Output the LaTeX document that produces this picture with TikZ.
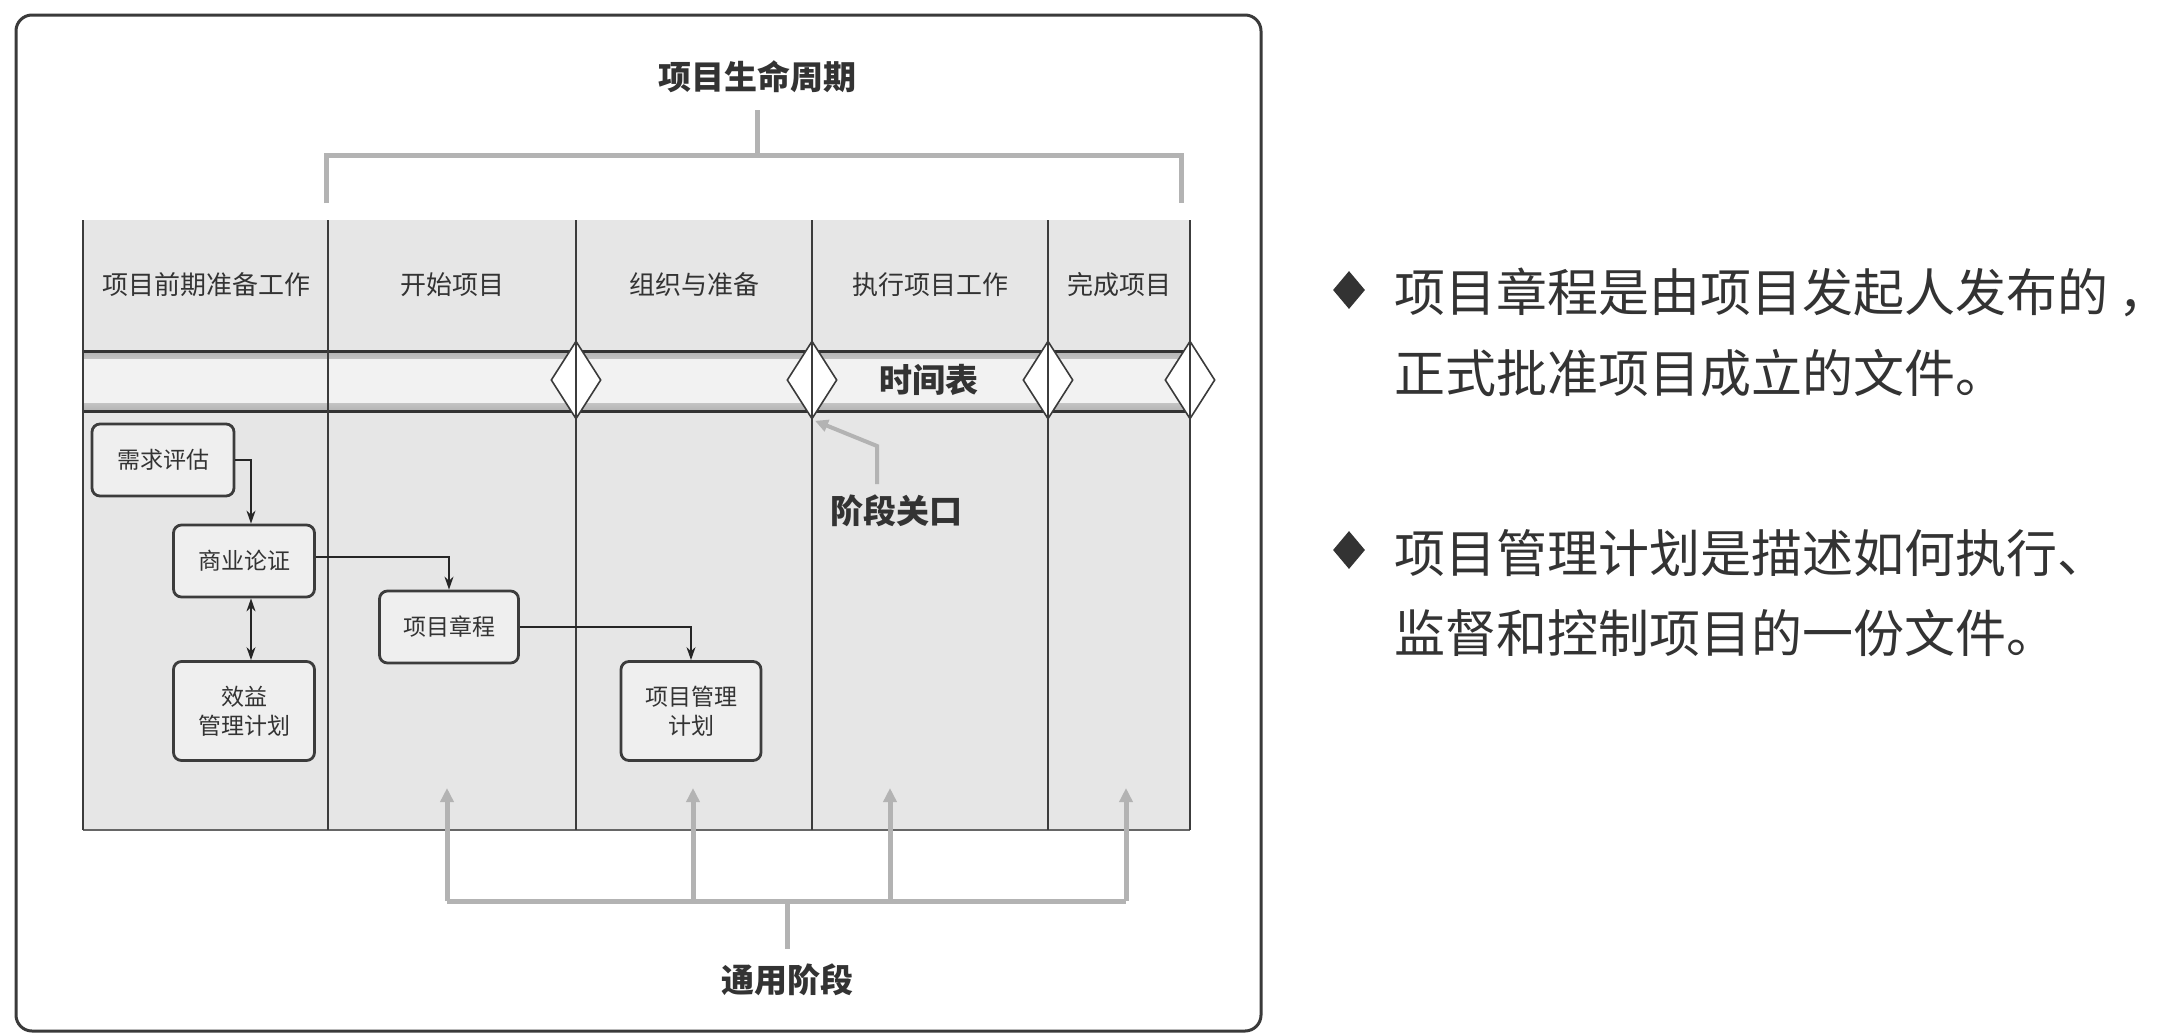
\documentclass[tikz,border=0pt]{standalone}
\usepackage{fontspec}
\setmainfont{Noto Sans CJK SC}
\usetikzlibrary{arrows.meta,shapes.geometric}
\definecolor{frame}{HTML}{3A3A3A}
\definecolor{tfill}{HTML}{E6E6E6}
\definecolor{tline}{HTML}{3C3C3C}
\definecolor{gline}{HTML}{B3B3B3}
\definecolor{txt}{HTML}{333333}
\definecolor{bfill}{HTML}{EFEFEF}
\tikzset{
  box/.style={draw=tline, line width=2.8pt, fill=bfill, rounded corners=8pt,
    align=center, text=txt, font=\fontsize{23pt}{29pt}\selectfont, inner sep=2pt},
  arr/.style={draw=black!85, line width=1.6pt, -{Stealth[length=13pt,width=9pt]}},
  darr/.style={draw=black!85, line width=1.6pt, {Stealth[length=13pt,width=9pt]}-{Stealth[length=13pt,width=9pt]}},
  gbr/.style={draw=gline, line width=5pt},
  garr/.style={draw=gline, line width=5pt, -{Triangle[length=14pt,width=13pt]}},
  head/.style={text=txt, font=\fontsize{26pt}{30pt}\selectfont},
  big/.style={text=txt, font=\bfseries\fontsize{33pt}{38pt}\selectfont},
  gate/.style={diamond, draw=frame, line width=1.6pt, fill=white, inner sep=0pt,
    minimum width=50pt, minimum height=78pt},
  bullet/.style={diamond, fill=txt, inner sep=0pt, minimum width=32pt, minimum height=38pt},
  rtext/.style={anchor=west, text=txt, font=\fontsize{51pt}{60pt}\selectfont, inner sep=0pt}
}
\begin{document}
\begin{tikzpicture}[x=1pt,y=-1pt]
\useasboundingbox (0,0) rectangle (2176,1034);
\fill[white] (0,0) rectangle (2176,1034);
% outer frame
\draw[frame, line width=3pt, rounded corners=16pt] (16,15) rectangle (1261,1031);

% title and top bracket
\node[big] (lc) at (757,77) {项目生命周期};
\coordinate (ts) at (757,110);
\coordinate (tj) at (757,155);
\coordinate (tl) at (326,203);
\coordinate (tr) at (1181,203);
\draw[gbr] (ts) -- (tj);
\draw[gbr] (tl) |- (tj) -| (tr);

% table background
\fill[tfill] (83,220) rectangle (1190,830);
% band
\shade[top color=black!30, bottom color=black!30, middle color=black!5] (83,351) rectangle (1190,411);
\fill[black!5] (83,359) rectangle (1190,403);
\draw[black!80, line width=3pt] (83,351) -- (1190,351);
\draw[black!80, line width=3pt] (83,411) -- (1190,411);
\draw[black!60, line width=2.4pt] (83,830) -- (1190,830);

% gates
\node[gate] (g1) at (576,380) {};
\node[gate] (g2) at (812,380) {};
\node[gate] (g3) at (1048,380) {};
\node[gate] (g4) at (1190,380) {};

% column lines
\foreach \x in {83,328,576,812,1048,1190}
  \draw[tline, line width=1.4pt] (\x,220) -- (\x,830);

% headers
\node[head] (h1) at (206,285) {项目前期准备工作};
\node[head] (h2) at (452,285) {开始项目};
\node[head] (h3) at (694,285) {组织与准备};
\node[head] (h4) at (930,285) {执行项目工作};
\node[head] (h5) at (1119,285) {完成项目};

\node[big] (sj) at (929,380) {时间表};

% gate label
\node[big] (jd) at (896,511) {阶段关口};
\coordinate (js) at (877,484);
\draw[gbr, line width=4pt, -{Triangle[length=13pt,width=12pt]}] (js) -- ++(0,-38) -- ([xshift=3pt,yshift=-1pt]g2.south);

% boxes
\node[box, minimum width=142pt, minimum height=72pt] (xq) at (163,460) {需求评估};
\node[box, minimum width=141pt, minimum height=72pt] (sy) at (244,561) {商业论证};
\node[box, minimum width=141pt, minimum height=99pt] (xy) at (244,711) {效益\\管理计划};
\node[box, minimum width=139pt, minimum height=72pt] (zc) at (449,627) {项目章程};
\node[box, minimum width=140pt, minimum height=99pt] (gl) at (691,711) {项目管理\\计划};

\draw[arr] (xq.east) -| ([xshift=7pt]sy.north);
\draw[arr] ([yshift=4pt]sy.east) -| (zc.north);
\draw[darr] ([xshift=7pt]sy.south) -- ([xshift=7pt]xy.north);
\draw[arr] (zc.east) -| (gl.north);

% bottom bracket
\coordinate (b1) at (447,788);
\coordinate (b2) at (693,788);
\coordinate (b3) at (890,788);
\coordinate (b4) at (1126,788);
\coordinate (bj) at (787,901);
\coordinate (bs) at (787,949);
\draw[gbr] (b1 |- bj) -- (b4 |- bj);
\draw[gbr] (bj) -- (bs);
\foreach \c in {b1,b2,b3,b4}
  \draw[garr] (\c |- bj) -- (\c);
\node[big] (ty) at (787,980) {通用阶段};

% right text
\node[bullet] (p1) at (1349,290) {};
\node[rtext] (l1) at (1394,292) {项目章程是由项目发起人发布的\hspace{10pt}，};
\node[rtext] (l2) at (1394,373) {正式批准项目成立的文件。};
\node[bullet] (p2) at (1349,550) {};
\node[rtext] (l3) at (1394,553) {项目管理计划是描述如何执行、};
\node[rtext] (l4) at (1394,633) {监督和控制项目的一份文件。};
\end{tikzpicture}
\end{document}
